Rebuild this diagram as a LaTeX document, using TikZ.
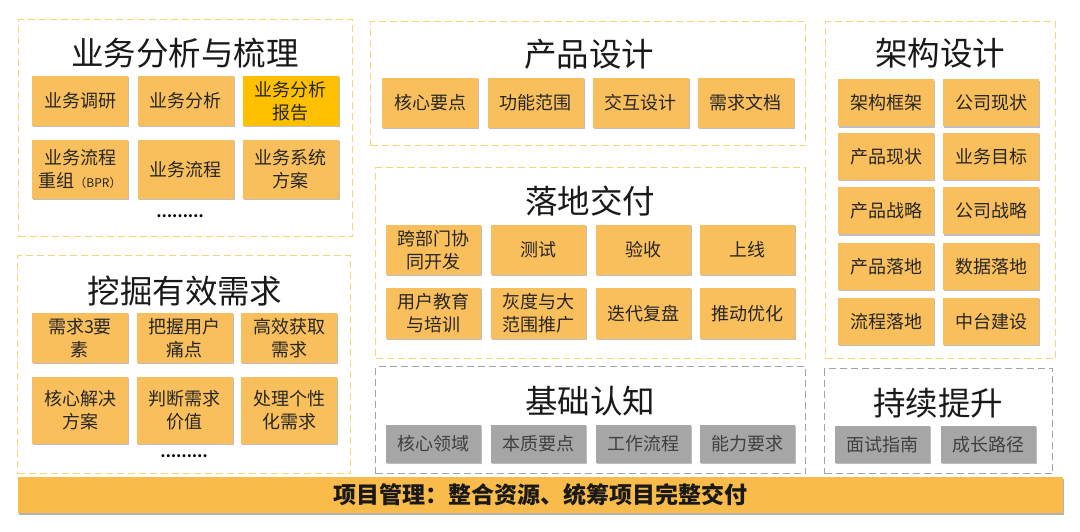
\documentclass[tikz,border=0pt]{standalone}
\usepackage{fontspec}
\newfontfamily\cjk{Noto Sans CJK SC}
\usetikzlibrary{shadows}
\definecolor{org}{HTML}{F9BF5C}
\definecolor{orgH}{HTML}{FFC000}
\definecolor{barc}{HTML}{F9BB4A}
\definecolor{gbox}{HTML}{A6A6A6}
\definecolor{yb}{HTML}{F2D678}
\definecolor{gb}{HTML}{A3A3A3}
\begin{document}
\begin{tikzpicture}[x=1pt,y=-1pt,
  every node/.style={font=\cjk},
  frameY/.style={draw=yb, line width=1.4pt, dash pattern=on 7pt off 4pt, fill=white, anchor=north west, inner sep=0pt},
  frameG/.style={frameY, draw=gb},
  ttl/.style={font=\cjk\fontsize{32.5}{36}\selectfont, text=black!90, inner sep=0pt},
  ob/.style={fill=org, minimum width=96, minimum height=50, inner sep=1pt, align=center,
     font=\cjk\fontsize{18}{23}\selectfont, text=black!85,
     drop shadow={shadow xshift=1pt, shadow yshift=-1.2pt, opacity=0.25, fill=black}},
  obh/.style={ob, fill=orgH},
  gbx/.style={ob, fill=gbox, text=black!75},
  dots/.style={font=\cjk\bfseries\fontsize{14}{14}\selectfont, inner sep=0pt}
]
\fill[white] (0,0) rectangle (1080,532);
\useasboundingbox (0,0) rectangle (1080,532);

% ---------- 业务分析与梳理 ----------
\node[frameY, minimum width=334, minimum height=217] (fA) at (18,19) {};
\node[ttl] (tA) at (185,53) {业务分析与梳理};
\node[ob] (a1) at (80,101) {业务调研};
\node[ob] (a2) at (185.5,101) {业务分析};
\node[obh] (a3) at (290.5,101) {业务分析\\报告};
\node[ob, minimum height=59] (a4) at (80,169.5) {业务流程\\重组{\fontsize{12}{12}\selectfont（BPR）}};
\node[ob, minimum height=59] (a5) at (185.5,169.5) {业务流程};
\node[ob, minimum height=59] (a6) at (290.5,169.5) {业务系统\\方案};
\node[dots] (dA) at (180,216) {………};

% ---------- 挖掘有效需求 ----------
\node[frameY, minimum width=333, minimum height=218] (fB) at (17,255) {};
\node[ttl] (tB) at (185,291) {挖掘有效需求};
\node[ob] (b1) at (80,338) {需求3要\\素};
\node[ob] (b2) at (184.5,338) {把握用户\\痛点};
\node[ob] (b3) at (289,338) {高效获取\\需求};
\node[ob, minimum height=67] (b4) at (80,410.5) {核心解决\\方案};
\node[ob, minimum height=67] (b5) at (184.5,410.5) {判断需求\\价值};
\node[ob, minimum height=67] (b6) at (289,410.5) {处理个性\\化需求};
\node[dots] (dB) at (184,456) {………};

% ---------- 产品设计 ----------
\node[frameY, minimum width=435, minimum height=124] (fC) at (370,21) {};
\node[ttl] (tC) at (589,54) {产品设计};
\node[ob] (c1) at (430,103) {核心要点};
\node[ob] (c2) at (535.5,103) {功能范围};
\node[ob] (c3) at (640.5,103) {交互设计};
\node[ob] (c4) at (745.5,103) {需求文档};

% ---------- 落地交付 ----------
\node[frameY, minimum width=430, minimum height=191] (fD) at (375,167) {};
\node[ttl] (tD) at (590,201) {落地交付};
\node[ob, minimum width=95] (d1) at (433.5,250) {跨部门协\\同开发};
\node[ob, minimum width=95] (d2) at (538.5,250) {测试};
\node[ob, minimum width=95] (d3) at (643,250) {验收};
\node[ob, minimum width=95] (d4) at (747.5,250) {上线};
\node[ob, minimum width=95, minimum height=51] (d5) at (433.5,313.5) {用户教育\\与培训};
\node[ob, minimum width=95, minimum height=51] (d6) at (538.5,313.5) {灰度与大\\范围推广};
\node[ob, minimum width=95, minimum height=51] (d7) at (643,313.5) {迭代复盘};
\node[ob, minimum width=95, minimum height=51] (d8) at (747.5,313.5) {推动优化};

% ---------- 基础认知 ----------
\node[frameG, minimum width=430, minimum height=107] (fE) at (375,366) {};
\node[ttl] (tE) at (590,401) {基础认知};
\node[gbx, minimum width=95, minimum height=38] (e1) at (433.5,444) {核心领域};
\node[gbx, minimum width=95, minimum height=38] (e2) at (538.5,444) {本质要点};
\node[gbx, minimum width=95, minimum height=38] (e3) at (643,444) {工作流程};
\node[gbx, minimum width=95, minimum height=38] (e4) at (747.5,444) {能力要求};

% ---------- 架构设计 ----------
\node[frameY, minimum width=230, minimum height=337] (fF) at (825,21) {};
\node[ttl] (tF) at (940,53) {架构设计};
\node[ob, minimum height=47] (f1) at (886,103) {架构框架};
\node[ob, minimum height=47] (f2) at (991,103) {公司现状};
\node[ob, minimum height=47] (f3) at (886,156.5) {产品现状};
\node[ob, minimum height=47] (f4) at (991,156.5) {业务目标};
\node[ob, minimum height=47] (f5) at (886,211) {产品战略};
\node[ob, minimum height=47] (f6) at (991,211) {公司战略};
\node[ob, minimum height=47] (f7) at (886,266.5) {产品落地};
\node[ob, minimum height=47] (f8) at (991,266.5) {数据落地};
\node[ob, minimum height=47] (f9) at (886,321.5) {流程落地};
\node[ob, minimum height=47] (f10) at (991,321.5) {中台建设};

% ---------- 持续提升 ----------
\node[frameG, minimum width=228, minimum height=105] (fG) at (824,368) {};
\node[ttl] (tG) at (938,403) {持续提升};
\node[gbx, minimum width=95, minimum height=37] (g1) at (882.5,444.5) {面试指南};
\node[gbx, minimum width=95, minimum height=37] (g2) at (988,444.5) {成长路径};

% ---------- 项目管理 ----------
\node[fill=barc, anchor=north west, minimum width=1045, minimum height=36, inner sep=0pt,
  drop shadow={shadow xshift=1pt, shadow yshift=-1.5pt, opacity=0.3, fill=black}] (bar) at (18,477) {};
\node[font=\cjk\bfseries\fontsize{23}{26}\selectfont, text=black!90] (barT) at (bar.center) {项目管理：整合资源、统筹项目完整交付};
\end{tikzpicture}
\end{document}
